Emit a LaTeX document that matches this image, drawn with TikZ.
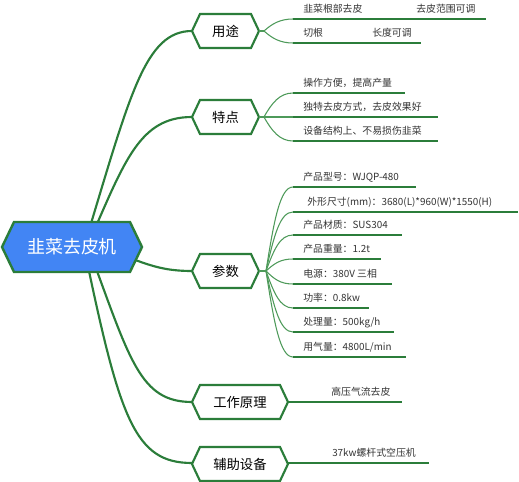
\documentclass[tikz,border=0pt]{standalone}
\usepackage{fontspec}
\setmainfont{Noto Sans CJK SC}
\usetikzlibrary{calc}
\definecolor{mgreen}{HTML}{2B7D3A}
\definecolor{lgreen}{HTML}{4E9A5A}
\definecolor{cblue}{HTML}{4285F4}
\definecolor{ltext}{HTML}{333333}
\tikzset{
 branchline/.style={draw=mgreen, line width=1.6pt},
 fanline/.style={draw=lgreen, line width=0.8pt},
 leafline/.style={draw=mgreen, line width=0.8pt},
 hexbranch/.style={draw=mgreen, line width=1.6pt, fill=white, line join=miter},
 hexcenter/.style={draw=mgreen, line width=1.8pt, fill=cblue, line join=miter},
 branchtext/.style={font=\fontsize{10}{12}\selectfont, text=black, inner sep=0pt},
 centertext/.style={font=\fontsize{13.5}{16}\selectfont, text=white, inner sep=0pt},
 leaftext/.style={font=\fontsize{7.4}{9}\selectfont, text=ltext, inner sep=0pt, anchor=base west},
}
% style, cx, cy, half width, half height, indent
\newcommand{\hexshape}[6]{%
  \path[#1] ({#2-#4},#3) -- ({#2-#4+#6},{#3-#5}) -- ({#2+#4-#6},{#3-#5}) -- ({#2+#4},#3)
    -- ({#2+#4-#6},{#3+#5}) -- ({#2-#4+#6},{#3+#5}) -- cycle;}
\begin{document}
\begin{tikzpicture}[x=0.75pt,y=-0.75pt]
\useasboundingbox (0,0) rectangle (519,482);
% connector anchor coordinates
\coordinate (o1) at (86,240);
\coordinate (o2) at (90,240);
\coordinate (o3) at (100,250);
\coordinate (o4) at (90,252);
\coordinate (o5) at (85,252);
\coordinate (b1) at (192,31);
\coordinate (b2) at (192,117);
\coordinate (b3) at (192,271);
\coordinate (b4) at (192,402);
\coordinate (b5) at (192,463);
% main connectors
\draw[branchline] (o1) .. controls (130,95) and (145,31) .. (b1);
\draw[branchline] (o2) .. controls (125,160) and (140,117) .. (b2);
\draw[branchline] (o3) .. controls (140,258) and (150,271) .. (b3);
\draw[branchline] (o4) .. controls (130,360) and (140,402) .. (b4);
\draw[branchline] (o5) .. controls (120,420) and (135,463) .. (b5);
% center node
\hexshape{hexcenter}{72}{247}{70}{25}{12}
\node[centertext] (ctr) at (72,247) {韭菜去皮机};
% branch nodes
\hexshape{hexbranch}{225.5}{31}{33.5}{17}{8}
\node[branchtext] (yt) at (225.5,31) {用途};
\hexshape{hexbranch}{225.5}{117}{33.5}{17}{8}
\node[branchtext] (td) at (225.5,117) {特点};
\hexshape{hexbranch}{225.5}{271}{33.5}{17}{8}
\node[branchtext] (cs) at (225.5,271) {参数};
\hexshape{hexbranch}{240}{402}{48}{17}{8}
\node[branchtext] (yl) at (240,402) {工作原理};
\hexshape{hexbranch}{240}{464}{48}{17}{8}
\node[branchtext] (fz) at (240,464) {辅助设备};
% fan points
\coordinate (yt-f) at (264,31);
\coordinate (td-f) at (264,117);
\coordinate (cs-f) at (266,271);
\draw[fanline] (259,31) -- (yt-f);
\draw[fanline] (259,117) -- (td-f);
\draw[fanline] (259,271) -- (cs-f);
% 用途 leaves
\foreach \y/\xe in {19/486, 43/421}{
  \draw[fanline] (yt-f) .. controls (272,{31+0.6*(\y-31)}) and (280,\y) .. (293,\y);
  \draw[leafline] (293,\y) -- (\xe,\y);
}
\node[leaftext] (yt1) at (303,12) {韭菜根部去皮};
\node[leaftext] (yt1a) at (416,12) {去皮范围可调};
\node[leaftext] (yt2) at (303,36) {切根};
\node[leaftext] (yt2a) at (372,36) {长度可调};
% 特点 leaves
\foreach \y/\xe/\t [count=\i] in {93/405/{操作方便，提高产量}, 117/438/{独特去皮方式，去皮效果好}, 141/438/{设备结构上、不易损伤韭菜}}{
  \draw[fanline] (td-f) .. controls (272,{117+0.6*(\y-117)}) and (280,\y) .. (293,\y);
  \draw[leafline] (293,\y) -- (\xe,\y);
  \node[leaftext] (td\i) at (303,\y-7) {\t};
}
% 参数 leaves
\foreach \y/\xe/\xt/\t [count=\i] in {187/416/303/{产品型号：WJQP-480}, 212/518/307/{外形尺寸(mm)：3680(L)*960(W)*1550(H)}, 235/402/303/{产品材质：SUS304}, 259/381/303/{产品重量：1.2t}, 284/392/303/{电源：380V 三相}, 308/369/303/{功率：0.8kw}, 332/394/303/{处理量：500kg/h}, 357/406/303/{用气量：4800L/min}}{
  \draw[fanline] (cs-f) .. controls (274,{271+0.6*(\y-271)}) and (280,\y) .. (293,\y);
  \draw[leafline] (293,\y) -- (\xe,\y);
  \node[leaftext] (cs\i) at (\xt,\y-7) {\t};
}
% 工作原理 / 辅助设备 leaves
\coordinate (yl-e) at (402,402);
\coordinate (fz-e) at (429,463);
\draw[leafline] (288,402) -- (yl-e);
\draw[leafline] (288,463) -- (fz-e);
\node[leaftext] (yl1) at (331,395) {高压气流去皮};
\node[leaftext] (fz1) at (332,456) {37kw螺杆式空压机};
\end{tikzpicture}
\end{document}
